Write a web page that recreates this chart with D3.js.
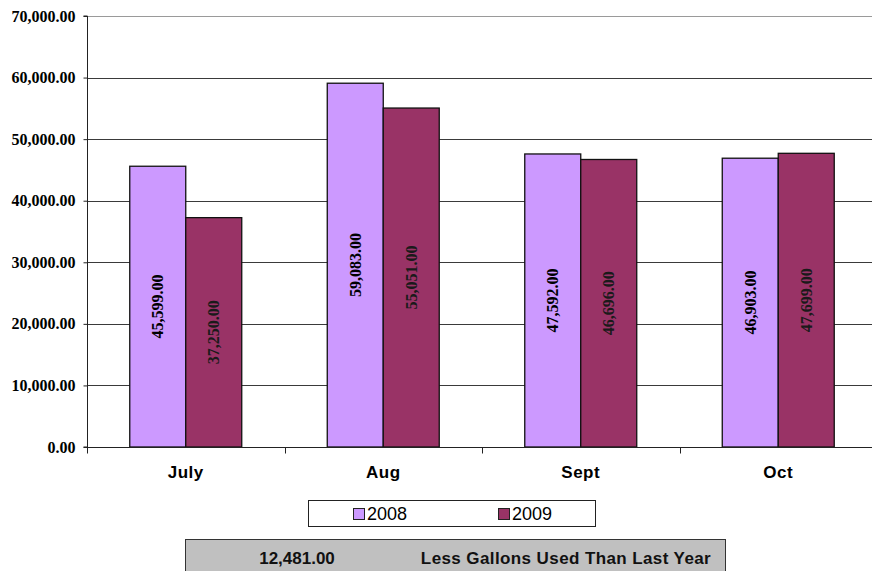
<!DOCTYPE html>
<html>
<head>
<meta charset="utf-8">
<script src="https://cdn.jsdelivr.net/npm/d3@7"></script>
<style>
  html, body { margin: 0; padding: 0; background: #fff; }
  svg { display: block; }
</style>
</head>
<body>
<script>
// Monthly water use, gallons
const months = ["July", "Aug", "Sept", "Oct"];
const seriesNames = ["2008", "2009"];
const values2008 = [45599, 59083, 47592, 46903];
const values2009 = [37250, 55051, 46696, 47699];
const yTicks = [0, 10000, 20000, 30000, 40000, 50000, 60000, 70000];
const savingsLabel = "Less Gallons Used Than Last Year";

const colors = { "2008": "#CC99FF", "2009": "#993366" };
const labelColors = { "2008": "#000", "2009": "#1a1a1a" };

const W = 872, H = 571;
const plot = { left: 87, top: 16, bottom: 447, right: 877 };

const svg = d3.select("body").append("svg")
  .attr("width", W).attr("height", H);

const y = d3.scaleLinear().domain([0, 70000]).range([plot.bottom, plot.top]);

const x0 = d3.scaleBand().domain(months)
  .range([plot.left, plot.right])
  .paddingInner(0.433).paddingOuter(0.2165);
const x1 = d3.scaleBand().domain(seriesNames).range([0, x0.bandwidth()]);

const rows = months.map((m, i) => ({
  month: m,
  items: [
    { series: "2008", value: values2008[i] },
    { series: "2009", value: values2009[i] }
  ]
}));

// horizontal gridlines
svg.append("g").selectAll("line")
  .data(yTicks.filter(t => t > 0))
  .join("line")
  .attr("x1", plot.left).attr("x2", W)
  .attr("y1", d => Math.round(y(d)) + 0.5)
  .attr("y2", d => Math.round(y(d)) + 0.5)
  .attr("stroke", d => d === 70000 ? "#9a9a9a" : "#3a3a3a")
  .attr("stroke-width", 1);

// bars
const groups = svg.append("g").selectAll("g")
  .data(rows).join("g")
  .attr("transform", d => `translate(${x0(d.month)},0)`);

groups.selectAll("rect")
  .data(d => d.items).join("rect")
  .attr("x", d => x1(d.series))
  .attr("y", d => y(d.value))
  .attr("width", x1.bandwidth())
  .attr("height", d => y(0) - y(d.value))
  .attr("fill", d => colors[d.series])
  .attr("stroke", "#111")
  .attr("stroke-width", 1.3);

// value labels, rotated inside the bars
const fmt = d3.format(",.2f");
groups.selectAll("text")
  .data(d => d.items).join("text")
  .attr("transform", d => {
    const cx = x1(d.series) + x1.bandwidth() / 2;
    const cy = y(d.value / 2);
    return `translate(${cx},${cy}) rotate(-90)`;
  })
  .attr("text-anchor", "middle")
  .attr("dy", "0.35em")
  .attr("font-family", "'Liberation Serif', 'Times New Roman', serif")
  .attr("font-weight", "bold")
  .attr("font-size", 16)
  .attr("fill", d => labelColors[d.series])
  .text(d => fmt(d.value));

// y axis
const yAxis = d3.axisLeft(y).tickValues(yTicks).tickFormat(fmt).tickSize(4).tickPadding(8);
const yg = svg.append("g").attr("transform", `translate(${plot.left + 0.5},0)`).call(yAxis);
yg.select(".domain").attr("stroke", "#222").attr("d", `M-4,${plot.top}H0V${plot.bottom}H-4`);
yg.selectAll(".tick line").attr("stroke", "#222");
yg.selectAll(".tick text")
  .attr("font-family", "'Liberation Serif', 'Times New Roman', serif")
  .attr("font-weight", "bold")
  .attr("font-size", 16)
  .attr("fill", "#000");

// x axis
const xg = svg.append("g").attr("transform", `translate(0,${plot.bottom + 0.5})`);
xg.append("line")
  .attr("x1", plot.left).attr("x2", W)
  .attr("stroke", "#222");
xg.selectAll(".xtick")
  .data(d3.range(months.length + 1))
  .join("line")
  .attr("x1", i => Math.round(plot.left + i * x0.step()) + 0.5)
  .attr("x2", i => Math.round(plot.left + i * x0.step()) + 0.5)
  .attr("y1", 0).attr("y2", 6)
  .attr("stroke", "#222");
xg.selectAll("text")
  .data(months).join("text")
  .attr("x", d => x0(d) + x0.bandwidth() / 2)
  .attr("y", 30)
  .attr("text-anchor", "middle")
  .attr("font-family", "'Liberation Sans', Arial, sans-serif")
  .attr("font-weight", "bold")
  .attr("font-size", 17)
  .attr("letter-spacing", 0.5)
  .attr("fill", "#000")
  .text(d => d);

// legend
const legend = svg.append("g");
legend.append("rect")
  .attr("x", 308.5).attr("y", 500.5).attr("width", 287).attr("height", 26)
  .attr("fill", "#fff").attr("stroke", "#222");
const legendX = { "2008": 353, "2009": 498 };
seriesNames.forEach(s => {
  legend.append("rect")
    .attr("x", legendX[s] + 0.5).attr("y", 508.5).attr("width", 11).attr("height", 11)
    .attr("fill", colors[s]).attr("stroke", "#222");
  legend.append("text")
    .attr("x", legendX[s] + 14).attr("y", 520)
    .attr("font-family", "'Liberation Sans', Arial, sans-serif")
    .attr("font-size", 18)
    .attr("fill", "#000")
    .text(s);
});

// savings summary box
const saved = d3.sum(values2008) - d3.sum(values2009);
const box = svg.append("g");
box.append("rect")
  .attr("x", 185.5).attr("y", 539.5).attr("width", 540).attr("height", 40)
  .attr("fill", "#C0C0C0").attr("stroke", "#333");
box.append("text")
  .attr("x", 297).attr("y", 564)
  .attr("text-anchor", "middle")
  .attr("font-family", "'Liberation Sans', Arial, sans-serif")
  .attr("font-weight", "bold").attr("font-size", 17)
  .attr("fill", "#111")
  .text(fmt(saved));
box.append("text")
  .attr("x", 566).attr("y", 564)
  .attr("text-anchor", "middle")
  .attr("font-family", "'Liberation Sans', Arial, sans-serif")
  .attr("font-weight", "bold").attr("font-size", 17)
  .attr("letter-spacing", 0.4)
  .attr("fill", "#111")
  .text(savingsLabel);
</script>
</body>
</html>
